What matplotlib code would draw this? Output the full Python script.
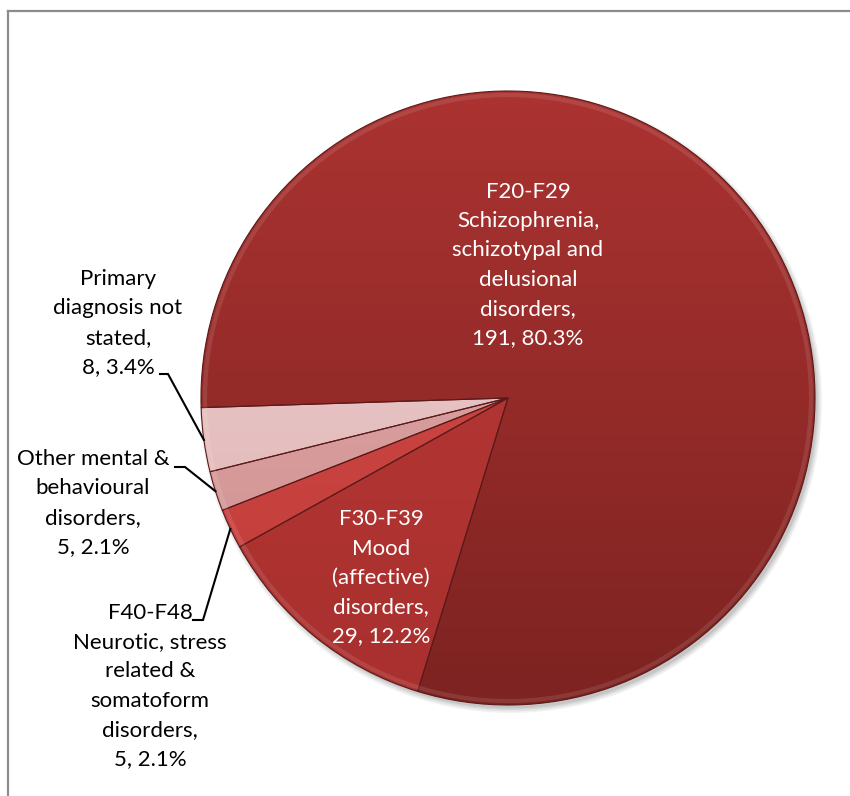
import numpy as np
import matplotlib.pyplot as plt
from matplotlib.patches import Arc
from matplotlib.colors import LinearSegmentedColormap

# diagnosis groups, clockwise from the left horizontal
labels = [
    'F20-F29\nSchizophrenia,\nschizotypal and\ndelusional\ndisorders,',
    'F30-F39\nMood\n(affective)\ndisorders,',
    'F40-F48\nNeurotic, stress\nrelated &\nsomatoform\ndisorders,',
    'Other mental &\nbehavioural\ndisorders,',
    'Primary\ndiagnosis not\nstated,',
]
counts = [191, 29, 5, 5, 8]

# gradient (top, bottom) per slice
top_colors = ['#ab3331', '#bb3937', '#d04a47', '#dfaaa9', '#efd0d0']
bottom_colors = ['#7d2321', '#a8302e', '#c23c3a', '#d09090', '#deb3b3']

W, H = 850, 796
CX, CY, R = 508, 398, 307

fig = plt.figure(figsize=(W / 100, H / 100), dpi=100)
ax = fig.add_axes([0, 0, 1, 1])

# soft shadow under the pie
for k, a in enumerate([0.05, 0.05, 0.06, 0.08]):
    sh = plt.Circle((CX + 3, CY - 4), R + 4 - k * 1.5, color='black', alpha=a, lw=0, zorder=0)
    ax.add_patch(sh)

wedges, _ = ax.pie(counts, startangle=181.8, counterclock=False,
                   center=(CX, CY), radius=R,
                   wedgeprops=dict(facecolor='none', edgecolor='#5a1a19', linewidth=0.8, zorder=3))

# gradient fill clipped to each wedge
grad = np.linspace(1, 0, 256).reshape(-1, 1)
for w, c0, c1 in zip(wedges, top_colors, bottom_colors):
    cmap = LinearSegmentedColormap.from_list('g', [c1, c0])
    im = ax.imshow(grad, extent=(CX - R, CX + R, CY - R, CY + R), cmap=cmap,
                   origin='upper', aspect='auto', zorder=2, interpolation='bicubic')
    im.set_clip_path(w)

# light bevel along the outer rim
for w in wedges:
    rim = Arc((CX, CY), 2 * R - 8, 2 * R - 8, theta1=w.theta1, theta2=w.theta2,
              color='white', alpha=0.10, lw=3, zorder=4)
    ax.add_patch(rim)

total = sum(counts)
texts = [f'{lab}\n{n}, {n / total * 100:.1f}%' for lab, n in zip(labels, counts)]

# label positions (pixels from top-left) and colours
label_pos = [(528, 265), (381, 578), (150, 686), (93, 503), (118, 323)]
label_col = ['white', 'white', 'black', 'black', 'black']
for s, (x, y), c in zip(texts, label_pos, label_col):
    ax.text(x, H - y, s, ha='center', va='center', fontsize=16, color=c,
            family='Lato', linespacing=1.58, zorder=6)

# leader lines for the small slices: elbow then on to the rim
elbows = {2: ((193, 620), (203, 620)), 3: ((175, 467), (185, 467)), 4: ((160, 374), (168, 374))}
for i, ((x0, y0), (x1, y1)) in elbows.items():
    w = wedges[i]
    mid = np.deg2rad((w.theta1 + w.theta2) / 2)
    ex, ey = CX + R * np.cos(mid), CY + R * np.sin(mid)
    ax.plot([x0, x1, ex], [H - y0, H - y1, ey], color='black', lw=1.5, zorder=5,
            solid_joinstyle='miter')

# chart area border (clipped on the right and bottom)
ax.plot([8, W], [H - 11, H - 11], color='#8c8c8c', lw=1.6, zorder=1)
ax.plot([8, 8], [0, H - 11], color='#8c8c8c', lw=1.6, zorder=1)

ax.set_xlim(0, W)
ax.set_ylim(0, H)
ax.set_aspect('auto')
ax.axis('off')

plt.savefig('out.png', dpi=100)
